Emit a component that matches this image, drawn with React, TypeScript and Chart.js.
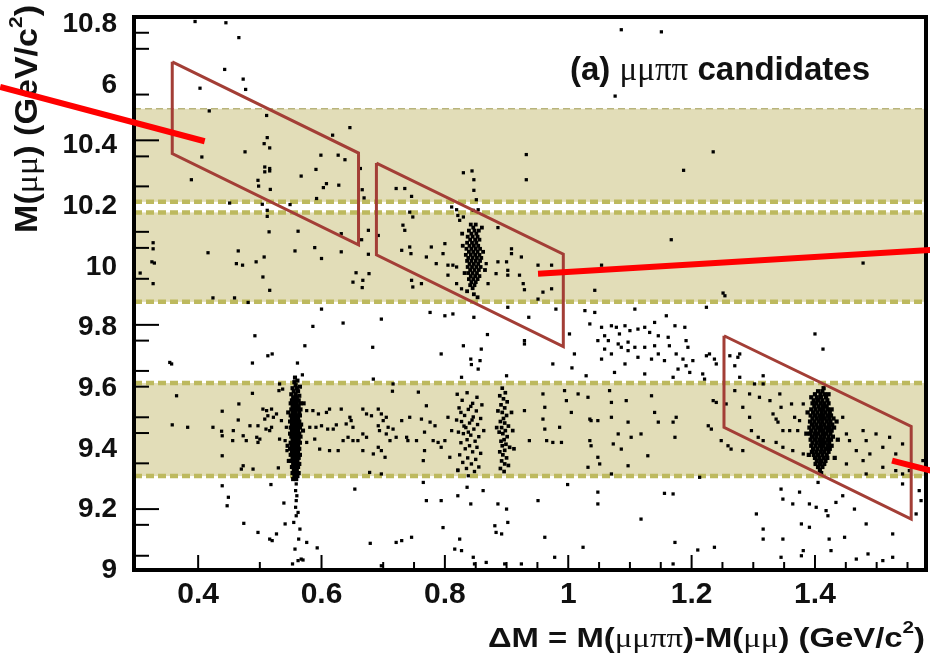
import { useEffect, useRef } from "react";
import { Chart, registerables } from "chart.js";
Chart.register(...registerables);

// ---------- axis ticks ----------
const xTickValues = [0.4, 0.6, 0.8, 1.0, 1.2, 1.4];
const xTickLabels = ["0.4", "0.6", "0.8", "1", "1.2", "1.4"];
const yTickValues = [9, 9.2, 9.4, 9.6, 9.8, 10, 10.2, 10.4, 10.6, 10.8];
const yTickLabels = ["9", "9.2", "9.4", "9.6", "9.8", "10", "10.2", "10.4", "6", "10.8"];
const xMajorMarks = [0.4, 0.6, 0.8, 1.0, 1.2, 1.4];
const xMinorMarks = [0.5, 0.7, 0.75, 0.85, 0.9, 0.95, 1.05, 1.1, 1.15, 1.25, 1.3, 1.35, 1.45, 1.5, 1.55];
const yMajorMarks = [10.418, 9.809, 9.201];
const yMinorMarks = [10.773, 10.72, 10.569, 10.365, 10.266, 10.116, 10.063, 9.961, 9.757, 9.657, 9.605, 9.504, 9.452, 9.352, 9.149, 9.047];

// ---------- Upsilon mass bands [low, high] ----------
const upsilonBands = [
  [9.31, 9.617],
  [9.885, 10.18],
  [10.215, 10.522],
];

// ---------- signal windows (parallelograms) ----------
const window1 = [[0.358, 10.677], [0.66, 10.376], [0.66, 10.073], [0.358, 10.374], [0.358, 10.677]];
const window2 = [[0.689, 10.343], [0.992, 10.042], [0.992, 9.737], [0.689, 10.04], [0.689, 10.343]];
const window3 = [[1.2525, 9.773], [1.556, 9.474], [1.556, 9.168], [1.2525, 9.471], [1.2525, 9.773]];

// ---------- red annotation lines ----------
const redLine1 = [[0.079, 10.594], [0.4106, 10.415]];
const redLine2 = [[0.951, 9.978], [1.594, 10.057]];
const redLine3 = [[1.525, 9.361], [1.594, 9.325]];

// ---------- candidates ----------
const ups1sAt056 = [
  [0.556,9.62],[0.561,9.625],[0.558,9.61],[0.553,9.6],[0.56,9.6],[0.565,9.605],[0.555,9.59],[0.562,9.59],[0.551,9.58],[0.558,9.58],[0.564,9.575],[0.554,9.57],[0.56,9.57],[0.552,9.56],[0.557,9.56],[0.563,9.56],[0.55,9.55],[0.555,9.55],[0.56,9.55],[0.566,9.55],[0.553,9.54],[0.558,9.54],[0.563,9.54],[0.551,9.53],[0.556,9.53],[0.561,9.53],[0.566,9.53],[0.553,9.52],[0.558,9.52],[0.564,9.52],[0.55,9.51],[0.555,9.51],[0.56,9.51],[0.565,9.51],[0.552,9.5],[0.557,9.5],[0.562,9.5],[0.549,9.49],[0.554,9.49],[0.559,9.49],[0.564,9.49],[0.552,9.48],[0.557,9.48],[0.562,9.48],[0.567,9.48],[0.55,9.47],[0.555,9.47],[0.56,9.47],[0.565,9.47],[0.552,9.46],[0.557,9.46],[0.562,9.46],[0.549,9.45],[0.554,9.45],[0.559,9.45],[0.564,9.45],[0.551,9.44],[0.556,9.44],[0.561,9.44],[0.566,9.44],[0.553,9.43],[0.558,9.43],[0.563,9.43],[0.55,9.42],[0.555,9.42],[0.56,9.42],[0.565,9.42],[0.552,9.41],[0.557,9.41],[0.562,9.41],[0.549,9.4],[0.554,9.4],[0.559,9.4],[0.564,9.4],[0.552,9.39],[0.557,9.39],[0.562,9.39],[0.55,9.38],[0.555,9.38],[0.56,9.38],[0.565,9.38],[0.553,9.37],[0.558,9.37],[0.563,9.37],[0.551,9.36],[0.556,9.36],[0.561,9.36],[0.554,9.35],[0.559,9.35],[0.564,9.35],[0.552,9.34],[0.557,9.34],[0.562,9.34],[0.555,9.33],[0.56,9.33],[0.553,9.32],[0.558,9.32],[0.563,9.32],[0.556,9.31],[0.561,9.31],[0.554,9.3],[0.559,9.3],[0.557,9.635],[0.546,9.52],[0.57,9.46],[0.545,9.41],[0.571,9.55],[0.547,9.36]
];

const ups1sAt084 = [
  [0.82,9.58],[0.836,9.585],[0.852,9.57],[0.828,9.56],[0.845,9.55],[0.86,9.545],[0.823,9.535],[0.838,9.53],[0.851,9.525],[0.832,9.51],[0.846,9.505],[0.858,9.5],[0.819,9.495],[0.827,9.49],[0.84,9.485],[0.853,9.48],[0.834,9.47],[0.847,9.465],[0.863,9.46],[0.822,9.455],[0.83,9.45],[0.842,9.445],[0.855,9.44],[0.836,9.43],[0.849,9.425],[0.826,9.42],[0.84,9.41],[0.852,9.405],[0.833,9.4],[0.845,9.39],[0.858,9.385],[0.824,9.38],[0.837,9.37],[0.85,9.365],[0.829,9.355],[0.843,9.35],[0.855,9.34],[0.835,9.335],[0.848,9.325],[0.821,9.33],[0.838,9.455],[0.831,9.475],[0.844,9.495],[0.826,9.52],[0.842,9.54]
];

const ups1sAt090 = [
  [0.893,9.6],[0.898,9.585],[0.889,9.575],[0.895,9.565],[0.901,9.555],[0.891,9.545],[0.897,9.535],[0.886,9.525],[0.893,9.52],[0.9,9.51],[0.895,9.5],[0.89,9.49],[0.897,9.485],[0.903,9.475],[0.892,9.47],[0.898,9.46],[0.888,9.455],[0.894,9.45],[0.901,9.44],[0.896,9.43],[0.891,9.425],[0.899,9.415],[0.893,9.41],[0.905,9.405],[0.897,9.395],[0.889,9.39],[0.894,9.38],[0.9,9.37],[0.892,9.36],[0.897,9.35],[0.903,9.345],[0.89,9.335],[0.896,9.325],[0.91,9.46],[0.884,9.47],[0.908,9.52],[0.912,9.4]
];

const ups1sAt140 = [
  [1.405,9.59],[1.412,9.59],[1.4,9.58],[1.409,9.58],[1.416,9.58],[1.403,9.57],[1.41,9.57],[1.418,9.57],[1.398,9.56],[1.405,9.56],[1.412,9.56],[1.42,9.56],[1.396,9.55],[1.402,9.55],[1.409,9.55],[1.415,9.55],[1.422,9.55],[1.399,9.54],[1.406,9.54],[1.413,9.54],[1.419,9.54],[1.394,9.53],[1.401,9.53],[1.408,9.53],[1.414,9.53],[1.421,9.53],[1.427,9.53],[1.397,9.52],[1.404,9.52],[1.411,9.52],[1.417,9.52],[1.424,9.52],[1.393,9.51],[1.4,9.51],[1.407,9.51],[1.413,9.51],[1.42,9.51],[1.426,9.51],[1.396,9.5],[1.403,9.5],[1.41,9.5],[1.416,9.5],[1.423,9.5],[1.43,9.5],[1.392,9.49],[1.399,9.49],[1.406,9.49],[1.412,9.49],[1.419,9.49],[1.425,9.49],[1.395,9.48],[1.402,9.48],[1.409,9.48],[1.415,9.48],[1.422,9.48],[1.428,9.48],[1.391,9.47],[1.398,9.47],[1.405,9.47],[1.411,9.47],[1.418,9.47],[1.424,9.47],[1.431,9.47],[1.394,9.46],[1.401,9.46],[1.408,9.46],[1.414,9.46],[1.421,9.46],[1.427,9.46],[1.392,9.45],[1.399,9.45],[1.405,9.45],[1.412,9.45],[1.418,9.45],[1.425,9.45],[1.395,9.44],[1.402,9.44],[1.409,9.44],[1.415,9.44],[1.422,9.44],[1.429,9.44],[1.393,9.43],[1.4,9.43],[1.407,9.43],[1.413,9.43],[1.42,9.43],[1.426,9.43],[1.396,9.42],[1.403,9.42],[1.41,9.42],[1.416,9.42],[1.423,9.42],[1.394,9.41],[1.401,9.41],[1.408,9.41],[1.414,9.41],[1.421,9.41],[1.427,9.41],[1.397,9.4],[1.404,9.4],[1.411,9.4],[1.418,9.4],[1.424,9.4],[1.395,9.39],[1.402,9.39],[1.409,9.39],[1.415,9.39],[1.422,9.39],[1.398,9.38],[1.405,9.38],[1.412,9.38],[1.419,9.38],[1.4,9.37],[1.407,9.37],[1.414,9.37],[1.42,9.37],[1.403,9.36],[1.41,9.36],[1.417,9.36],[1.401,9.35],[1.408,9.35],[1.415,9.35],[1.405,9.34],[1.412,9.34],[1.408,9.33],
  [1.388,9.52],[1.435,9.49],[1.386,9.45],[1.437,9.43],[1.39,9.38],[1.432,9.37],[1.41,9.32],[1.414,9.6],[1.422,9.58],[1.394,9.57]
];

const ups2sAt085 = [
  [0.842,10.14],[0.85,10.14],[0.846,10.13],[0.839,10.12],[0.848,10.12],[0.855,10.12],[0.843,10.11],[0.851,10.11],[0.837,10.1],[0.845,10.1],[0.853,10.1],[0.841,10.09],[0.849,10.09],[0.856,10.09],[0.836,10.08],[0.844,10.08],[0.851,10.08],[0.84,10.07],[0.847,10.07],[0.854,10.07],[0.835,10.06],[0.843,10.06],[0.85,10.06],[0.857,10.06],[0.839,10.05],[0.846,10.05],[0.853,10.05],[0.834,10.04],[0.842,10.04],[0.849,10.04],[0.856,10.04],[0.838,10.03],[0.845,10.03],[0.852,10.03],[0.859,10.03],[0.836,10.02],[0.843,10.02],[0.85,10.02],[0.857,10.02],[0.84,10.01],[0.847,10.01],[0.854,10.01],[0.837,10.0],[0.844,10.0],[0.851,10.0],[0.858,10.0],[0.841,9.99],[0.848,9.99],[0.855,9.99],[0.838,9.98],[0.845,9.98],[0.852,9.98],[0.842,9.97],[0.849,9.97],[0.856,9.97],[0.839,9.96],[0.846,9.96],[0.853,9.96],[0.843,9.95],[0.85,9.95],[0.841,9.94],[0.848,9.94],[0.845,9.93],[0.847,9.91],
  [0.829,10.07],[0.862,10.05],[0.865,9.99],[0.832,9.98],[0.828,10.11],[0.86,10.13],[0.853,9.9],[0.836,9.92]
];

const bgUpper = [
  [0.395,10.81],[0.445,10.806],[0.466,10.757],[0.443,10.652],[0.473,10.62],[0.403,10.59],[0.477,10.586],[0.418,10.515],[0.511,10.5],[0.646,10.46],[0.618,10.435],[0.512,10.427],[0.507,10.407],[0.516,10.393],[0.476,10.38],[0.406,10.363],[0.599,10.369],[0.627,10.369],[0.638,10.354],[0.508,10.33],[0.516,10.325],[0.508,10.314],[0.516,10.317],[0.591,10.322],[0.567,10.3],[0.663,10.325],[0.389,10.288],[0.497,10.286],[0.498,10.267],[0.608,10.275],[0.603,10.262],[0.628,10.27],[0.517,10.256],[0.592,10.226],[0.666,10.255],[0.669,10.228],[0.451,10.211],[0.504,10.207],[0.549,10.206],[0.512,10.187],[0.512,10.167],[0.515,10.116],[0.562,10.118],[0.632,10.11],[0.676,10.121],[0.665,10.09],[0.327,10.08],[0.327,10.06],[0.325,10.017],[0.329,10.013],[0.416,10.047],[0.465,10.053],[0.589,10.064],[0.557,10.053],[0.632,10.05],[0.676,10.042],[0.507,10.033],[0.494,10.017],[0.462,10.011],[0.472,10.006],[0.6,10.028],[0.306,9.98],[0.327,9.945],[0.505,9.967],[0.656,9.981],[0.667,9.956],[0.666,9.932],[0.677,9.978],[0.516,9.923],[0.651,9.95],[0.721,10.259],[0.692,10.104],
  [1.086,10.783],[1.151,10.776],[1.076,10.564],[0.932,10.371],[0.932,10.288],[0.83,10.311],[0.844,10.317],[0.847,10.288],[0.847,10.253],[0.851,10.222],[0.735,10.259],[0.746,10.233],[0.811,10.198],[0.819,10.189],[0.821,10.17],[0.83,10.165],[0.743,10.181],[0.748,10.165],[0.846,10.187],[0.854,10.189],[0.886,10.13],[0.732,10.138],[0.735,10.121],[0.824,10.154],[0.778,10.066],[0.77,10.033],[0.8,10.077],[0.797,10.044],[0.813,10.006],[0.819,10.0],[0.743,10.066],[0.745,10.044],[0.786,10.011],[0.886,10.017],[0.9,10.017],[0.902,9.989],[0.902,9.973],[0.908,10.06],[0.908,10.044],[0.924,10.033],[0.921,9.973],[0.883,9.978],[0.951,10.006],[0.973,10.006],[1.054,10.006],[0.959,9.917],[0.973,9.928],[0.929,9.925],[0.927,9.945],[1.043,9.923],[0.746,9.956],[0.748,9.934],[0.762,9.945],[0.73,10.055],[0.867,10.011],[0.87,9.945],[0.805,10.006],[0.805,9.973],[0.819,9.945],[0.827,9.928],
  [1.235,10.38],[1.187,10.319],[1.167,10.09],[1.478,10.013],[1.251,9.914],[1.254,9.905]
];

const bgMiddle = [
  [0.424,9.898],[0.459,9.898],[0.481,9.883],[0.6,9.861],[0.586,9.804],[0.635,9.815],[0.697,9.828],[0.492,9.773],[0.573,9.74],[0.683,9.735],[0.513,9.707],[0.52,9.713],[0.354,9.685],[0.357,9.68],[0.488,9.683],[0.561,9.683],[0.569,9.644],[0.684,9.63],[0.716,9.614],[0.715,9.59],[0.532,9.614],[0.537,9.597],[0.531,9.592],
  [0.776,9.85],[0.8,9.839],[0.813,9.845],[0.847,9.834],[0.869,9.777],[0.902,9.867],[0.936,9.834],[0.951,9.894],[0.98,9.861],[1.002,9.779],[0.929,9.757],[0.929,9.746],[0.83,9.74],[0.859,9.729],[0.794,9.713],[0.842,9.696],[0.843,9.678],[0.854,9.663],[0.857,9.691],[0.975,9.68],[1.01,9.713],[1.006,9.667],[1.029,9.641],[0.9,9.641],[0.827,9.636],
  [1.027,9.856],[1.043,9.85],[1.054,9.801],[1.059,9.773],[1.07,9.806],[1.078,9.801],[1.083,9.779],[1.092,9.806],[1.1,9.79],[1.108,9.861],[1.113,9.795],[1.124,9.801],[1.132,9.784],[1.14,9.817],[1.146,9.773],[1.048,9.757],[1.065,9.757],[1.081,9.746],[1.097,9.752],[1.108,9.735],[1.124,9.735],[1.14,9.74],[1.146,9.713],[1.054,9.696],[1.07,9.713],[1.092,9.68],[1.113,9.702],[1.135,9.696],[1.075,9.652],[1.124,9.647],[1.035,9.812],[1.086,9.735],[1.097,9.724],[1.059,9.729],
  [1.162,9.768],[1.164,9.74],[1.173,9.806],[1.189,9.801],[1.191,9.757],[1.194,9.735],[1.175,9.713],[1.186,9.696],[1.191,9.674],[1.197,9.652],[1.178,9.663],[1.202,9.691],[1.224,9.707],[1.229,9.713],[1.237,9.696],[1.24,9.68],[1.218,9.647],[1.221,9.63],[1.262,9.707],[1.275,9.702],[1.27,9.674],[1.316,9.641],[1.4,9.779],[1.413,9.729],[1.224,9.867],[1.159,9.839],[1.156,9.691],[1.17,9.636],[1.278,9.713],[1.278,9.636]
];

const bgBand1S = [
  [0.365,9.575],[0.358,9.479],[0.383,9.471],[0.424,9.471],[0.439,9.524],[0.438,9.458],[0.439,9.443],[0.466,9.548],[0.465,9.495],[0.457,9.46],[0.456,9.427],[0.473,9.443],[0.478,9.427],[0.488,9.583],[0.484,9.476],[0.497,9.476],[0.505,9.531],[0.511,9.526],[0.519,9.531],[0.513,9.509],[0.508,9.498],[0.522,9.504],[0.527,9.515],[0.535,9.493],[0.51,9.465],[0.516,9.46],[0.519,9.471],[0.495,9.438],[0.5,9.432],[0.497,9.421],[0.532,9.432],[0.541,9.427],[0.543,9.471],[0.544,9.394],[0.473,9.344],[0.47,9.333],[0.489,9.333],[0.53,9.337],[0.439,9.377],[0.576,9.526],[0.586,9.526],[0.595,9.515],[0.608,9.52],[0.613,9.531],[0.581,9.471],[0.591,9.471],[0.6,9.476],[0.61,9.465],[0.619,9.465],[0.624,9.479],[0.576,9.421],[0.589,9.432],[0.597,9.399],[0.613,9.394],[0.627,9.394],[0.635,9.427],[0.643,9.438],[0.651,9.427],[0.632,9.531],[0.646,9.504],[0.648,9.493],[0.64,9.482],[0.651,9.471],[0.667,9.531],[0.673,9.515],[0.681,9.509],[0.692,9.531],[0.697,9.515],[0.705,9.504],[0.7,9.493],[0.692,9.476],[0.694,9.46],[0.708,9.471],[0.716,9.465],[0.705,9.449],[0.711,9.427],[0.721,9.438],[0.692,9.405],[0.697,9.394],[0.703,9.372],[0.684,9.383],[0.673,9.438],[0.667,9.449],[0.659,9.427],[0.667,9.394],[0.678,9.322],[0.697,9.317],
  [0.73,9.493],[0.743,9.504],[0.74,9.427],[0.738,9.438],[0.754,9.427],[0.762,9.498],[0.767,9.455],[0.776,9.488],[0.784,9.476],[0.781,9.427],[0.789,9.421],[0.794,9.405],[0.8,9.427],[0.767,9.394],[0.765,9.361],[0.757,9.587],[0.77,9.542],[0.805,9.504],[0.811,9.46],[0.808,9.372],[0.821,9.328],[0.838,9.311],
  [0.929,9.526],[0.937,9.427],[0.959,9.581],[0.962,9.537],[0.959,9.498],[0.962,9.465],[0.965,9.427],[0.975,9.421],[0.989,9.421],[0.986,9.471],[0.997,9.559],[1.005,9.52],[1.032,9.57],[1.035,9.498],[1.037,9.493],[1.035,9.427],[1.037,9.41],[1.048,9.372],[1.051,9.35],[1.067,9.592],[1.07,9.553],[1.07,9.504],[1.081,9.449],[1.073,9.416],[1.086,9.399],[1.094,9.559],[1.097,9.488],[1.102,9.438],[1.118,9.449],[1.129,9.377],[1.135,9.575],[1.14,9.52],[1.146,9.488],[1.048,9.493],[1.032,9.339],[1.07,9.317],[1.097,9.344],[0.994,9.592],[1.016,9.581],
  [1.17,9.488],[1.175,9.504],[1.173,9.438],[1.235,9.559],[1.24,9.553],[1.227,9.476],[1.232,9.465],[1.248,9.427],[1.259,9.41],[1.264,9.399],[1.283,9.537],[1.294,9.581],[1.302,9.614],[1.31,9.57],[1.316,9.614],[1.327,9.559],[1.332,9.515],[1.337,9.498],[1.343,9.581],[1.345,9.537],[1.34,9.488],[1.348,9.46],[1.359,9.46],[1.362,9.548],[1.367,9.504],[1.375,9.493],[1.372,9.46],[1.381,9.548],[1.297,9.46],[1.308,9.438],[1.316,9.427],[1.337,9.421],[1.348,9.405],[1.364,9.394],[1.381,9.383],[1.445,9.504],[1.451,9.449],[1.456,9.427],[1.467,9.394],[1.478,9.46],[1.483,9.427],[1.478,9.361],[1.489,9.383],[1.499,9.449],[1.51,9.405],[1.521,9.438],[1.531,9.383],[1.542,9.416],[1.451,9.35],[1.483,9.317],[1.51,9.339],[1.531,9.328],[1.542,9.317],[1.553,9.328],[1.575,9.361],[1.283,9.394],[1.256,9.548],[1.27,9.592],[1.294,9.504]
];

const bgLower = [
  [0.439,9.278],[0.449,9.24],[0.447,9.212],[0.518,9.282],[0.654,9.267],[0.539,9.221],[0.474,9.154],[0.541,9.152],[0.497,9.124],[0.527,9.119],[0.516,9.102],[0.52,9.097],[0.576,9.091],[0.593,9.073],[0.679,9.088],[0.721,9.091],[0.697,9.014],
  [0.559,9.284],[0.558,9.262],[0.56,9.245],[0.559,9.229],[0.558,9.207],[0.562,9.19],[0.559,9.179],[0.555,9.157],[0.565,9.135],[0.563,9.102],[0.557,9.069],[0.567,9.036],[0.562,9.031],[0.553,9.02],[0.57,9.033],
  [0.765,9.289],[0.77,9.229],[0.794,9.229],[0.821,9.245],[0.836,9.273],[0.862,9.262],[0.842,9.218],[0.886,9.218],[0.9,9.201],[0.902,9.157],[0.881,9.146],[0.883,9.124],[0.892,9.119],[0.797,9.14],[0.824,9.102],[0.816,9.069],[0.827,9.064],[0.746,9.108],[0.846,9.042],[0.962,9.108],[0.978,9.042],[1.024,9.075],[0.951,9.229],[0.999,9.282],[1.048,9.257],[1.048,9.218],[1.118,9.168],[0.848,9.02],[0.867,9.025],[0.897,9.02],[0.924,9.02],[0.73,9.097],
  [1.17,9.251],[1.156,9.253],[1.213,9.306],[1.305,9.185],[1.316,9.135],[1.345,9.267],[1.348,9.234],[1.364,9.218],[1.375,9.257],[1.391,9.218],[1.402,9.207],[1.405,9.289],[1.418,9.196],[1.421,9.179],[1.434,9.223],[1.445,9.245],[1.464,9.201],[1.483,9.152],[1.526,9.119],[1.542,9.284],[1.569,9.262],[1.572,9.229],[1.564,9.185],[1.378,9.152],[1.391,9.141],[1.348,9.102],[1.381,9.064],[1.378,9.047],[1.423,9.102],[1.426,9.064],[1.448,9.108],[1.467,9.036],[1.486,9.053],[1.51,9.031],[1.526,9.042],[1.173,9.091],[1.21,9.066],[1.237,9.075],[1.316,9.102],[1.345,9.042],[1.17,9.02]
];

// ---------- styling ----------
const SANS = '"Liberation Sans", Arial, Helvetica, sans-serif';
const SERIF = '"Liberation Serif", "Times New Roman", serif';
const BAND_FILL = "#e2ddb8";
const BAND_EDGE = "#bdb95e";
const WINDOW_COLOR = "#a33e36";
const TEXT = "#111";

const toXY = (arr: number[][]) => arr.map(([x, y]) => ({ x, y }));

function drawRich(ctx: CanvasRenderingContext2D, segs: { text: string; font: string; dy?: number }[], x0: number, y0: number, width: number, rotate = false) {
  ctx.save();
  let total = 0;
  const ws = segs.map((s) => {
    ctx.font = s.font;
    const w = ctx.measureText(s.text).width;
    total += w;
    return w;
  });
  ctx.translate(x0, y0);
  if (rotate) ctx.rotate(-Math.PI / 2);
  ctx.scale(width / total, 1);
  ctx.fillStyle = TEXT;
  ctx.textBaseline = "alphabetic";
  ctx.textAlign = "left";
  let cx = 0;
  segs.forEach((s, i) => {
    ctx.font = s.font;
    ctx.fillText(s.text, cx, s.dy || 0);
    cx += ws[i];
  });
  ctx.restore();
}

const decorPlugin = {
  id: "decor",
  beforeDatasetsDraw(chart: any) {
    const { ctx, chartArea: a } = chart;
    const xs = chart.scales.x;
    const ys = chart.scales.y;
    ctx.save();
    ctx.beginPath();
    ctx.rect(a.left, a.top, a.right - a.left, a.bottom - a.top);
    ctx.clip();
    ctx.fillStyle = BAND_FILL;
    for (const [lo, hi] of upsilonBands) {
      const y1 = ys.getPixelForValue(hi);
      const y2 = ys.getPixelForValue(lo);
      ctx.fillRect(a.left, y1, a.right - a.left, y2 - y1);
    }
    const topEdge = Math.max(...upsilonBands.map((b) => b[1]));
    for (const band of upsilonBands) {
      for (const v of band) {
        const thin = v === topEdge;
        const yp = ys.getPixelForValue(v);
        ctx.beginPath();
        ctx.setLineDash(thin ? [7, 4] : [8, 4]);
        ctx.lineWidth = thin ? 1.5 : 4.5;
        ctx.strokeStyle = thin ? "#b8b47c" : BAND_EDGE;
        ctx.moveTo(a.left, yp);
        ctx.lineTo(a.right, yp);
        ctx.stroke();
      }
    }
    ctx.setLineDash([]);
    ctx.restore();

    // tick marks (inside frame)
    ctx.save();
    ctx.strokeStyle = "#000";
    ctx.lineWidth = 2;
    const mark = (x1: number, y1: number, x2: number, y2: number) => {
      ctx.beginPath();
      ctx.moveTo(x1, y1);
      ctx.lineTo(x2, y2);
      ctx.stroke();
    };
    xMajorMarks.forEach((v) => { const p = xs.getPixelForValue(v); mark(p, a.bottom, p, a.bottom - 15); });
    xMinorMarks.forEach((v) => { const p = xs.getPixelForValue(v); mark(p, a.bottom, p, a.bottom - 8); });
    yMajorMarks.forEach((v) => { const p = ys.getPixelForValue(v); mark(a.left, p, a.left + 25, p); });
    yMinorMarks.forEach((v) => { const p = ys.getPixelForValue(v); mark(a.left, p, a.left + 15, p); });
    // frame
    ctx.lineWidth = 4;
    ctx.strokeRect(a.left, a.top, a.right - a.left, a.bottom - a.top);
    ctx.restore();

    // texts
    const b = (s: number) => `bold ${s}px ${SANS}`;
    const r = (s: number) => `${s}px ${SERIF}`;
    drawRich(ctx, [
      { text: "(a) ", font: b(33) },
      { text: "μμππ", font: r(33) },
      { text: " candidates", font: b(33) },
    ], 570, 80, 300);
    drawRich(ctx, [
      { text: "ΔM = M(", font: b(27) },
      { text: "μμππ", font: r(27) },
      { text: ")-M(", font: b(27) },
      { text: "μμ", font: r(27) },
      { text: ") (GeV/c", font: b(27) },
      { text: "2", font: b(17), dy: -14 },
      { text: ")", font: b(27) },
    ], 488, 647, 437);
    drawRich(ctx, [
      { text: "M(", font: b(31) },
      { text: "μμ", font: r(31) },
      { text: ") (GeV/c", font: b(31) },
      { text: "2", font: b(19), dy: -15 },
      { text: ")", font: b(31) },
    ], 37, 233, 228, true);
  },
};

const lineDs = (pts: number[][], color: string, width: number, order: number) => ({
  data: toXY(pts),
  showLine: true,
  borderColor: color,
  borderWidth: width,
  pointRadius: 0,
  tension: 0,
  fill: false,
  clip: false as any,
  order,
});

const pointDs = (pts: number[][], radius: number) => ({
  data: toXY(pts),
  showLine: false,
  pointStyle: "rect",
  pointRadius: radius,
  pointBackgroundColor: "#000",
  backgroundColor: "#000",
  pointBorderWidth: 0,
  borderWidth: 0,
  order: 2,
});

const zeroPad = (s: any) => {
  s.paddingTop = 0;
  s.paddingBottom = 0;
  s.paddingLeft = 0;
  s.paddingRight = 0;
};

export default function App() {
  const ref = useRef<HTMLCanvasElement>(null);
  useEffect(() => {
    document.body.style.margin = "0";
    const chart = new Chart(ref.current as HTMLCanvasElement, {
      type: "scatter",
      data: {
        datasets: [
          lineDs(redLine1, "#ff0000", 6, 0),
          lineDs(redLine2, "#ff0000", 6, 0),
          lineDs(redLine3, "#ff0000", 6, 0),
          lineDs(window1, WINDOW_COLOR, 3, 1),
          lineDs(window2, WINDOW_COLOR, 3, 1),
          lineDs(window3, WINDOW_COLOR, 3, 1),
          pointDs(bgUpper, 2.3),
          pointDs(bgMiddle, 2.3),
          pointDs(bgBand1S, 2.3),
          pointDs(bgLower, 2.3),
          pointDs(ups1sAt056, 2.9),
          pointDs(ups1sAt084, 2.4),
          pointDs(ups1sAt090, 2.6),
          pointDs(ups1sAt140, 3.0),
          pointDs(ups2sAt085, 2.7),
        ] as any,
      },
      options: {
        responsive: false,
        animation: false,
        events: [],
        devicePixelRatio: 1,
        layout: { padding: { top: 17, right: 4, left: 0, bottom: 0 } },
        plugins: { legend: { display: false }, tooltip: { enabled: false } },
        scales: {
          x: {
            type: "linear",
            min: 0.296,
            max: 1.58,
            grid: { display: false, drawTicks: false },
            border: { display: false },
            ticks: {
              autoSkip: false,
              maxRotation: 0,
              padding: 7,
              color: TEXT,
              font: { family: SANS, size: 30, weight: "bold" },
              callback: (_v: any, i: number) => xTickLabels[i],
            },
            afterBuildTicks: (s: any) => { s.ticks = xTickValues.map((v) => ({ value: v })); },
            afterFit: (s: any) => { s.height = 92; zeroPad(s); },
          },
          y: {
            type: "linear",
            min: 9,
            max: 10.825,
            grid: { display: false, drawTicks: false },
            border: { display: false },
            ticks: {
              autoSkip: false,
              padding: 17,
              color: TEXT,
              font: { family: SANS, size: 28, weight: "bold" },
              callback: (_v: any, i: number) => yTickLabels[i],
            },
            afterBuildTicks: (s: any) => { s.ticks = yTickValues.map((v) => ({ value: v })); },
            afterFit: (s: any) => { s.width = 134; zeroPad(s); },
          },
        },
      } as any,
      plugins: [decorPlugin],
    });
    return () => chart.destroy();
  }, []);
  return (
    <div style={{ width: 930, height: 662 }}>
      <canvas ref={ref} width={930} height={662} style={{ display: "block" }} />
    </div>
  );
}
